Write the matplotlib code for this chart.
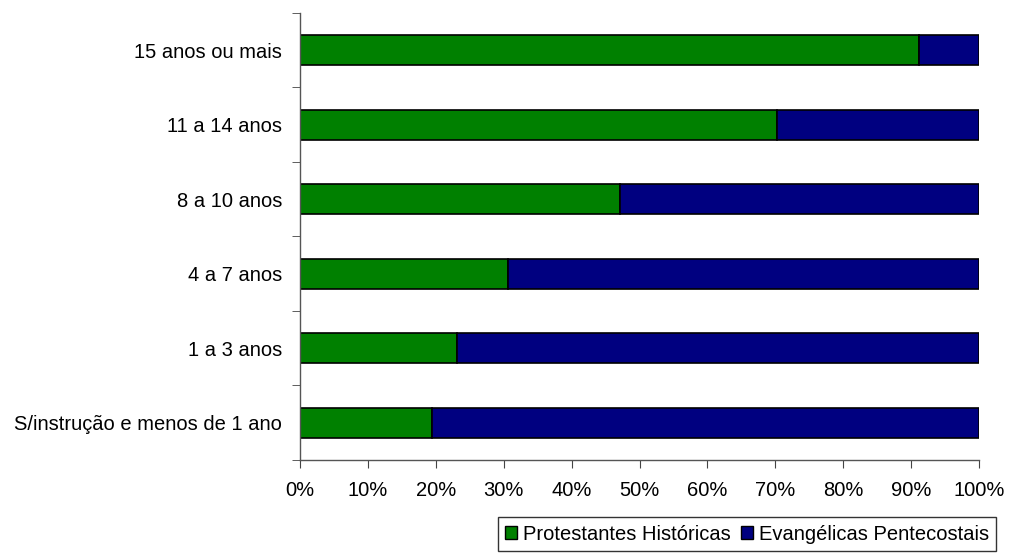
import matplotlib.pyplot as plt
from matplotlib.patches import Patch

plt.rcParams['font.family'] = ['Liberation Sans', 'DejaVu Sans']

# Anos de estudo, de baixo para cima
categorias = ['S/instrução e menos de 1 ano', '1 a 3 anos', '4 a 7 anos',
              '8 a 10 anos', '11 a 14 anos', '15 anos ou mais']
historicas = [19.4, 23.1, 30.6, 47.1, 70.3, 91.2]
pentecostais = [100 - v for v in historicas]

verde = '#008000'
azul = '#000080'

fig = plt.figure(figsize=(10.09, 5.55), dpi=100)
ax = fig.add_axes([0.2973, 0.1712, 0.6730, 0.8054])

pos = range(len(categorias))
ax.barh(pos, historicas, height=0.4, color=verde, edgecolor='black', linewidth=1.2)
ax.barh(pos, pentecostais, left=historicas, height=0.4, color=azul,
        edgecolor='black', linewidth=1.2)

ax.set_xlim(0, 100)
ax.set_ylim(-0.5, len(categorias) - 0.5)
ax.set_xticks(range(0, 101, 10))
ax.set_xticklabels([f'{v}%' for v in range(0, 101, 10)], fontsize=14.5)
ax.set_yticks(pos)
ax.set_yticklabels(categorias, fontsize=14.5)
ax.set_yticks([i - 0.5 for i in range(len(categorias) + 1)], minor=True)
ax.tick_params(axis='y', which='major', length=0, pad=13)
ax.tick_params(axis='y', which='minor', length=6, color='#444444', direction='out')
ax.tick_params(axis='x', length=6, color='#444444', direction='out', pad=9)

for s in ['top', 'right']:
    ax.spines[s].set_visible(False)
for s in ['left', 'bottom']:
    ax.spines[s].set_color('#555555')
    ax.spines[s].set_linewidth(1.0)

handles = [Patch(facecolor=verde, edgecolor='black', linewidth=1),
           Patch(facecolor=azul, edgecolor='black', linewidth=1)]
leg = fig.legend(handles, ['Protestantes Históricas', 'Evangélicas Pentecostais'],
                 loc='lower right', bbox_to_anchor=(0.987, 0.008), ncol=2,
                 fontsize=14.5, frameon=True, fancybox=False, handlelength=0.6,
                 handleheight=0.6, handletextpad=0.3, columnspacing=0.5,
                 borderpad=0.35, borderaxespad=0)
leg.get_frame().set_edgecolor('black')
leg.get_frame().set_linewidth(1.0)

fig.savefig('out.png', dpi=100, facecolor='white')
